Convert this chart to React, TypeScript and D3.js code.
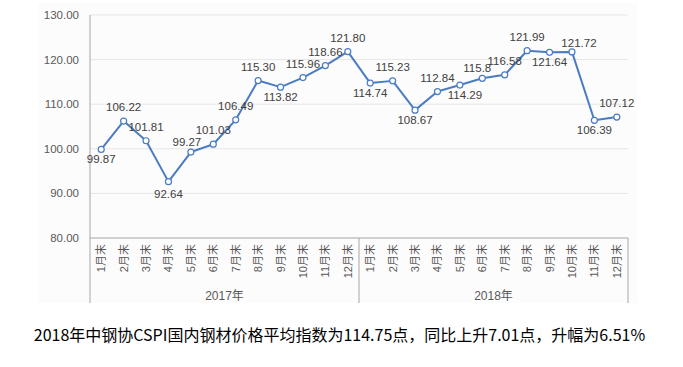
import React from "react";
import * as d3 from "d3";

// CSPI 国内钢材价格指数 月末值
const months = ["1月末", "2月末", "3月末", "4月末", "5月末", "6月末", "7月末", "8月末", "9月末", "10月末", "11月末", "12月末"];
const years = ["2017年", "2018年"];
const values2017 = [99.87, 106.22, 101.81, 92.64, 99.27, 101.03, 106.49, 115.30, 113.82, 115.96, 118.66, 121.80];
const values2018 = [114.74, 115.23, 108.67, 112.84, 114.29, 115.8, 116.58, 121.99, 121.64, 121.72, 106.39, 107.12];
const labels2017 = ["99.87", "106.22", "101.81", "92.64", "99.27", "101.03", "106.49", "115.30", "113.82", "115.96", "118.66", "121.80"];
const labels2018 = ["114.74", "115.23", "108.67", "112.84", "114.29", "115.8", "116.58", "121.99", "121.64", "121.72", "106.39", "107.12"];
const yTicks = [80, 90, 100, 110, 120, 130];
const caption = "2018年中钢协CSPI国内钢材价格平均指数为114.75点，同比上升7.01点，升幅为6.51%";

// label placement: a = above, b = below
const place2017 = ["b", "a", "a", "b", "a", "a", "a", "a", "b", "a", "a", "a"];
const place2018 = ["b", "a", "b", "a", "b", "a", "a", "a", "b", "a", "b", "a"];
const nudge: { [k: number]: [number, number] } = { 3: [0, 2], 4: [-4, 4], 16: [5, 0], 17: [-5, 4], 21: [7, 5] };

const W = 683, H = 367;
const margin = { top: 15, left: 90, right: 55, bottom: 129 };
const font = "'Liberation Sans', 'Noto Sans CJK SC', sans-serif";

export default function App() {
  const cats: { key: string; month: string; year: string }[] = [];
  years.forEach((y) => months.forEach((m) => cats.push({ key: y + m, month: m, year: y })));
  const values = values2017.concat(values2018);
  const labels = labels2017.concat(labels2018);
  const place = place2017.concat(place2018);

  const x = d3.scaleBand<string>()
    .domain(cats.map((c) => c.key))
    .range([margin.left, W - margin.right]);
  const y = d3.scaleLinear().domain([80, 130]).range([H - margin.bottom, margin.top]);
  const cx = (i: number) => (x(cats[i].key) as number) + x.bandwidth() / 2;

  const line = d3.line<number>()
    .x((_, i) => cx(i))
    .y((d) => y(d));

  const x0 = margin.left, x1 = W - margin.right, yb = y(80);
  const groupW = (x1 - x0) / years.length;

  return (
    <svg width={W} height={H} style={{ position: "absolute", left: 0, top: 0 }}>
      <rect x={0} y={0} width={W} height={H} fill="#fff" />
      <rect x={38} y={3} width={599} height={300} fill="#fcfcfc" />
      {/* grid */}
      {yTicks.map((t) => (
        <g key={t}>
          {t > 80 && <line x1={x0} x2={x1} y1={y(t)} y2={y(t)} stroke="#e6e6e6" strokeWidth={1} />}
          <text x={79} y={y(t) + 4} textAnchor="end" fontSize={11.5} fontFamily={font} fill="#595959">
            {t.toFixed(2)}
          </text>
        </g>
      ))}
      {/* axes */}
      <line x1={x0} x2={x0} y1={margin.top} y2={303} stroke="#a6a6a6" />
      <line x1={x0} x2={x1} y1={yb} y2={yb} stroke="#a6a6a6" />
      {years.map((yr, g) => (
        <line key={yr} x1={x0 + (g + 1) * groupW} x2={x0 + (g + 1) * groupW} y1={yb} y2={303} stroke="#a6a6a6" />
      ))}
      {cats.map((c, i) => (
        <text key={c.key} transform={`translate(${cx(i) + 4},${yb + 6}) rotate(-90)`} textAnchor="end"
          fontSize={11} fontFamily={font} fill="#595959">
          {c.month}
        </text>
      ))}
      {years.map((yr, g) => (
        <text key={yr} x={x0 + (g + 0.5) * groupW} y={300} textAnchor="middle" fontSize={12} fontFamily={font} fill="#595959">
          {yr}
        </text>
      ))}
      {/* series */}
      <path d={line(values) || ""} fill="none" stroke="#4a7cc4" strokeWidth={2} strokeLinejoin="round" />
      {values.map((v, i) => (
        <circle key={i} cx={cx(i)} cy={y(v)} r={3} fill="#fff" stroke="#4a7cc4" strokeWidth={1.2} />
      ))}
      {values.map((v, i) => {
        const n = nudge[i] || [0, 0];
        const dy = place[i] === "a" ? -10 : 14;
        return (
          <text key={"l" + i} x={cx(i) + n[0]} y={y(v) + dy + n[1]} textAnchor="middle" fontSize={11.5}
            fontFamily={font} fill="#404040">
            {labels[i]}
          </text>
        );
      })}
      <text x={W / 2 - 2} y={341} textAnchor="middle" fontSize={16} fontFamily="'Noto Sans CJK SC', sans-serif" fill="#000">
        {caption}
      </text>
    </svg>
  );
}
